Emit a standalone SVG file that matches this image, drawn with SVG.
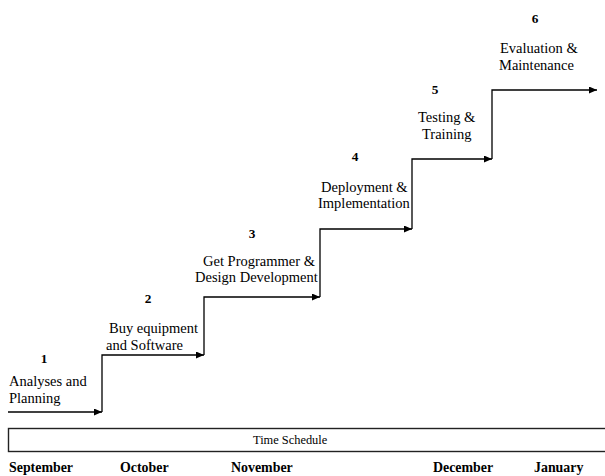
<svg xmlns="http://www.w3.org/2000/svg" width="605" height="476" viewBox="0 0 605 476">
<style>
.lbl{font-family:"Liberation Serif","Times New Roman",serif;font-size:14.5px;fill:#000}
.num{font-family:"Liberation Serif","Times New Roman",serif;font-size:13.3px;font-weight:bold;fill:#000;text-anchor:middle}
.mon{font-family:"Liberation Serif","Times New Roman",serif;font-size:13.9px;font-weight:bold;fill:#000}
.ts{font-family:"Liberation Serif","Times New Roman",serif;font-size:12.4px;fill:#000}
.conn{fill:none;stroke:#000;stroke-width:1.3;marker-end:url(#ah)}
</style>
<defs>
<marker id="ah" markerUnits="userSpaceOnUse" markerWidth="9" markerHeight="8" refX="8" refY="3.5" orient="auto">
<path d="M0,0 L8,3.5 L0,7 z" fill="#000"/>
</marker>
</defs>
<rect width="605" height="476" fill="#fff"/>
<g id="connectors">
<path class="conn" d="M8,412 H102"/>
<path class="conn" d="M102,412 V355 H204"/>
<path class="conn" d="M204,355 V297 H320"/>
<path class="conn" d="M320,297 V229 H412"/>
<path class="conn" d="M412,229 V159 H492"/>
<path class="conn" d="M492,159 V90 H597"/>
</g>
<g id="step1">
<text class="num" x="44" y="363">1</text>
<text class="lbl" x="9" y="386">Analyses and</text>
<text class="lbl" x="9" y="403">Planning</text>
</g>
<g id="step2">
<text class="num" x="148" y="303">2</text>
<text class="lbl" x="109" y="333">Buy equipment</text>
<text class="lbl" x="106" y="350">and Software</text>
</g>
<g id="step3">
<text class="num" x="252" y="238">3</text>
<text class="lbl" x="203" y="266">Get Programmer &amp;</text>
<text class="lbl" x="195" y="282">Design Development</text>
</g>
<g id="step4">
<text class="num" x="355" y="161">4</text>
<text class="lbl" x="321" y="192">Deployment &amp;</text>
<text class="lbl" x="318" y="208">Implementation</text>
</g>
<g id="step5">
<text class="num" x="435" y="94">5</text>
<text class="lbl" x="418" y="122">Testing &amp;</text>
<text class="lbl" x="422" y="139">Training</text>
</g>
<g id="step6">
<text class="num" x="535" y="23">6</text>
<text class="lbl" x="500" y="53">Evaluation &amp;</text>
<text class="lbl" x="499" y="70">Maintenance</text>
</g>
<g id="timeline">
<rect x="8.5" y="428.5" width="600" height="23" fill="none" stroke="#222" stroke-width="1.4"/>
<text class="ts" x="253" y="444">Time Schedule</text>
<text class="mon" x="9" y="472">September</text>
<text class="mon" x="120" y="472">October</text>
<text class="mon" x="231" y="472">November</text>
<text class="mon" x="433" y="472">December</text>
<text class="mon" x="534" y="472">January</text>
</g>
</svg>
